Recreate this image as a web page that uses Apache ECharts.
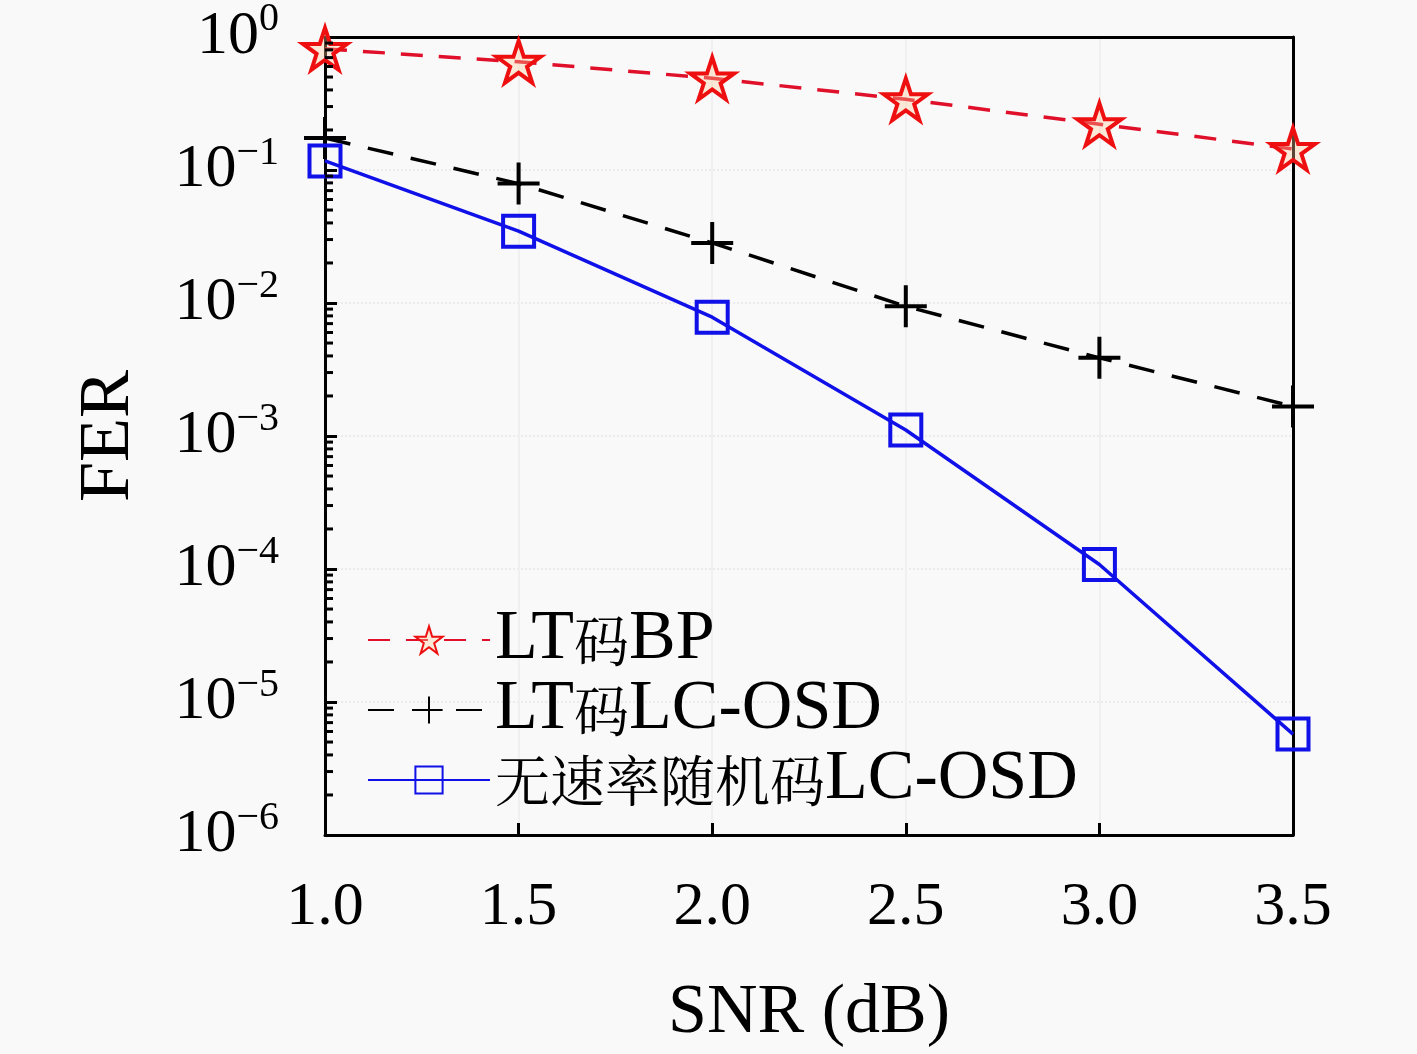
<!DOCTYPE html>
<html>
<head>
<meta charset="utf-8">
<script src="https://cdn.jsdelivr.net/npm/echarts@6/dist/echarts.min.js"></script>
<style>
  html, body { margin: 0; padding: 0; background: #f9f9f9; }
  #chart { width: 1417px; height: 1054px; }
</style>
</head>
<body>
<div id="chart"></div>
<script>
// SNR (dB) sampling points
var snrList = [1.0, 1.5, 2.0, 2.5, 3.0, 3.5];
// FER
var ltBp = [0.814, 0.651, 0.489, 0.340, 0.221, 0.144];
var ltLcOsd = [0.174, 0.079, 0.0283, 0.00944, 0.00387, 0.00167];
var ratelessLcOsd = [0.117, 0.0347, 0.00782, 0.00111, 0.000108, 0.00000574];
var seriesNames = ['LT码BP', 'LT码LC-OSD', '无速率随机码LC-OSD'];
// minor ticks of the log axis (2..9 in each decade)
var decades = [1e-6, 1e-5, 1e-4, 1e-3, 1e-2, 1e-1];
var minorSteps = [2, 3, 4, 5, 6, 7, 8, 9];

var FONT = "'Liberation Serif', 'Noto Serif CJK SC', 'Noto Sans CJK SC', serif";
var CJK = "'Noto Serif CJK SC', 'Noto Sans CJK SC', serif";
var starPath = 'path://M0,-100 L22.45,-30.9 L95.1,-30.9 L36.3,11.8 L58.8,80.9 L0,38.2 L-58.8,80.9 L-36.3,11.8 L-95.1,-30.9 L-22.45,-30.9 Z';
var plusPath = 'path://M0,-100 L0,100 M-100,0 L100,0';

function pairs(xs, ys) {
    var out = [];
    for (var i = 0; i < xs.length; i++) {
        out.push([xs[i], ys[i]]);
    }
    return out;
}

var minorTicks = [];
for (var d = 0; d < decades.length; d++) {
    for (var m = 0; m < minorSteps.length; m++) {
        minorTicks.push([1.0, decades[d] * minorSteps[m]]);
    }
}

var myChart = echarts.init(document.getElementById('chart'));

option = {
    backgroundColor: '#f9f9f9',
    animation: false,
    grid: {
        left: 325, right: 124, top: 30, bottom: 218
    },
    legend: {
        data: seriesNames,
        orient: 'vertical',
        left: 362,
        top: 600,
        itemWidth: 122,
        itemHeight: 34,
        itemGap: 0,
        formatter: function (name) {
            // CJK glyphs and Latin glyphs get their own size
            var parts = name.match(/[\u4e00-\u9fff]+|[^\u4e00-\u9fff]+/g);
            return parts.map(function (p) {
                return /[\u4e00-\u9fff]/.test(p) ? '{c|' + p + '}' : '{l|' + p + '}';
            }).join('');
        },
        textStyle: {
            color: '#000',
            lineHeight: 60,
            rich: {
                c: { fontFamily: CJK, fontSize: 55, lineHeight: 60, color: '#000' },
                l: { fontFamily: FONT, fontSize: 70, lineHeight: 60, color: '#000' }
            }
        }
    },
    xAxis: [{
        type: 'value',
        min: 1.0,
        max: 3.5,
        interval: 0.5,
        name: 'SNR (dB)',
        nameLocation: 'middle',
        nameGap: 144,
        nameTextStyle: { fontFamily: FONT, fontSize: 70, color: '#000' },
        axisLine: { show: true, lineStyle: { color: '#000', width: 3 } },
        axisTick: { show: true, inside: true, length: 12, lineStyle: { color: '#000', width: 3 } },
        axisLabel: {
            margin: 42,
            fontFamily: FONT,
            fontSize: 62,
            color: '#000',
            formatter: function (v) { return v.toFixed(1); }
        },
        splitLine: { show: true, lineStyle: { color: '#f0f0f0', width: 2 } }
    }, {
        type: 'value',
        position: 'top',
        min: 1.0,
        max: 3.5,
        axisLine: { show: true, onZero: false, lineStyle: { color: '#000', width: 3 } },
        axisTick: { show: false },
        axisLabel: { show: false },
        splitLine: { show: false }
    }],
    yAxis: [{
        type: 'log',
        logBase: 10,
        min: 1e-6,
        max: 1,
        interval: 1,
        name: 'FER',
        nameLocation: 'middle',
        nameGap: 180,
        nameTextStyle: { fontFamily: FONT, fontSize: 72, color: '#000' },
        axisLine: { show: true, lineStyle: { color: '#000', width: 3 } },
        axisTick: { show: true, inside: true, length: 12, lineStyle: { color: '#000', width: 3 } },
        axisLabel: {
            margin: 46,
            formatter: function (v) {
                var e = Math.round(Math.log(v) / Math.LN10);
                var sup = e === 0 ? '0' : '\u2212' + (-e);
                return '{b|10}{s|' + sup + '}';
            },
            rich: {
                b: { fontFamily: FONT, fontSize: 62, color: '#000', lineHeight: 62 },
                s: { fontFamily: FONT, fontSize: 40, color: '#000', padding: [0, 0, 34, 0] }
            }
        },
        splitLine: { show: true, lineStyle: { color: '#ebebeb', width: 2, type: 'dotted' } }
    }, {
        type: 'log',
        logBase: 10,
        min: 1e-6,
        max: 1,
        position: 'right',
        axisLine: { show: true, onZero: false, lineStyle: { color: '#000', width: 3 } },
        axisTick: { show: false },
        axisLabel: { show: false },
        splitLine: { show: false }
    }],
    series: [
        {
            name: seriesNames[0],
            type: 'line',
            data: pairs(snrList, ltBp),
            symbol: starPath,
            symbolSize: 44,
            symbolKeepAspect: true,
            z: 4,
            lineStyle: { color: '#e0102a', width: 3.5, type: [22, 16] },
            itemStyle: { color: 'rgba(255,200,150,0.35)', borderColor: '#ee1010', borderWidth: 4 }
        },
        {
            name: seriesNames[1],
            type: 'line',
            data: pairs(snrList, ltLcOsd),
            symbol: plusPath,
            symbolSize: 42,
            symbolKeepAspect: true,
            z: 3,
            lineStyle: { color: '#000', width: 3.5, type: [26, 18] },
            itemStyle: { color: 'rgba(0,0,0,0)', borderColor: '#000', borderWidth: 4 }
        },
        {
            name: seriesNames[2],
            type: 'line',
            data: pairs(snrList, ratelessLcOsd),
            symbol: 'rect',
            symbolSize: 31,
            z: 3,
            lineStyle: { color: '#1010e8', width: 3.5 },
            itemStyle: { color: 'rgba(0,0,0,0)', borderColor: '#1010e8', borderWidth: 4 }
        },
        {
            // minor ticks along the left axis
            type: 'custom',
            silent: true,
            clip: false,
            z: 5,
            data: minorTicks,
            renderItem: function (params, api) {
                var p = api.coord([api.value(0), api.value(1)]);
                return {
                    type: 'line',
                    shape: { x1: p[0], y1: p[1], x2: p[0] + 8, y2: p[1] },
                    style: { stroke: '#000', lineWidth: 3 }
                };
            }
        }
    ]
};

myChart.setOption(option);
</script>
</body>
</html>
